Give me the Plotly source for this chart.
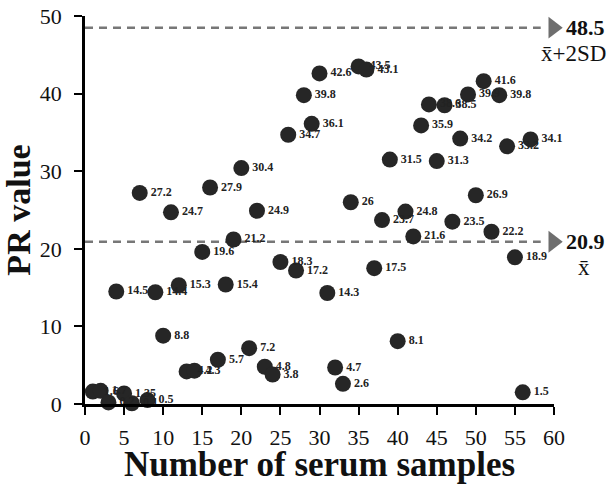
import plotly.graph_objects as go

samples = list(range(1, 58))
pr_values = [1.6, 1.7, 0.2, 14.5, 1.35, 0.1, 27.2, 0.5, 14.4, 8.8,
             24.7, 15.3, 4.2, 4.3, 19.6, 27.9, 5.7, 15.4, 21.2, 30.4,
             7.2, 24.9, 4.8, 3.8, 18.3, 34.7, 17.2, 39.8, 36.1, 42.6,
             14.3, 4.7, 2.6, 26, 43.5, 43.1, 17.5, 23.7, 31.5, 8.1,
             24.8, 21.6, 35.9, 38.6, 31.3, 38.5, 23.5, 34.2, 39.9, 26.9,
             41.6, 22.2, 39.8, 33.2, 18.9, 1.5, 34.1]
mean_val = 20.9
mean2sd_val = 48.5
x_ticks = [0, 5, 10, 15, 20, 25, 30, 35, 40, 45, 50, 55, 60]
y_ticks = [0, 10, 20, 30, 40, 50]

serif = "Liberation Serif"
fig = go.Figure()

# reference lines
for v in [mean_val, mean2sd_val]:
    fig.add_shape(type="line", x0=0, x1=58.3, y0=v, y1=v, xref="x", yref="y",
                  line=dict(color="#777777", width=2.5, dash="8px,6px"), layer="below")

fig.add_trace(go.Scatter(
    x=[59.9, 59.9], y=[mean_val, mean2sd_val], mode="markers",
    marker=dict(symbol="triangle-right", size=19, color="#6e6e6e", line=dict(width=0)),
    cliponaxis=False, hoverinfo="skip", showlegend=False))

fig.add_trace(go.Scatter(
    x=samples, y=pr_values, mode="markers",
    marker=dict(size=16, color="#262626", line=dict(width=0)),
    cliponaxis=False, showlegend=False))

fig.add_trace(go.Scatter(
    x=samples, y=pr_values, mode="markers+text",
    marker=dict(size=16, color="rgba(0,0,0,0)", line=dict(width=0)),
    text=[f"{v:g}" for v in pr_values], textposition="middle right",
    textfont=dict(family=serif, size=12, color="#222222", weight="bold"),
    cliponaxis=False, hoverinfo="skip", showlegend=False))

fig.add_annotation(x=1.0, xref="paper", xanchor="left", y=mean2sd_val, yref="y",
                   text="<b>48.5</b>", showarrow=False, xshift=10,
                   font=dict(family=serif, size=22, color="#111111"))
fig.add_annotation(x=1.0, xref="paper", xanchor="right", y=mean2sd_val, yref="y",
                   yshift=-26, xshift=54,
                   text="x\u0304+2SD", showarrow=False,
                   font=dict(family=serif, size=23, color="#111111"))
fig.add_annotation(x=1.0, xref="paper", xanchor="left", y=mean_val, yref="y",
                   text="<b>20.9</b>", showarrow=False, xshift=10,
                   font=dict(family=serif, size=22, color="#111111"))
fig.add_annotation(x=1.0, xref="paper", xanchor="center", y=mean_val, yref="y",
                   yshift=-26, xshift=30,
                   text="x\u0304", showarrow=False,
                   font=dict(family=serif, size=23, color="#111111"))

fig.update_xaxes(range=[0, 60], tickvals=x_ticks, ticks="outside", ticklen=8, tickwidth=2,
                 tickcolor="black", showline=True, linecolor="black", linewidth=2.5,
                 showgrid=False, zeroline=False, ticklabelstandoff=4, automargin=False,
                 tickfont=dict(family=serif, size=22, color="#111111"),
                 title=dict(text="<b>Number of serum samples</b>", standoff=4,
                            font=dict(family=serif, size=35, color="#111111")))
fig.update_yaxes(range=[0, 50], tickvals=y_ticks, ticks="outside", ticklen=8, tickwidth=2,
                 tickcolor="black", showline=True, linecolor="black", linewidth=2.5,
                 showgrid=False, zeroline=False, ticklabelstandoff=8, automargin=False,
                 tickfont=dict(family=serif, size=22, color="#111111"),
                 title=dict(text="<b>PR value</b>", standoff=4,
                            font=dict(family=serif, size=34, color="#111111")))

fig.update_layout(width=612, height=484, margin=dict(l=85, r=58, t=16, b=80),
                  plot_bgcolor="white", paper_bgcolor="white")

fig.write_html("out.html")
